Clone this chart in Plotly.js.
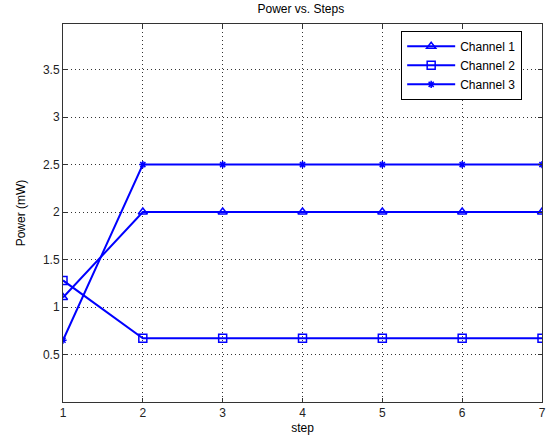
<!DOCTYPE html>
<html><head><meta charset="utf-8">
<script src="https://cdn.plot.ly/plotly-3.0.1.min.js"></script>
<style>body{margin:0;padding:0;background:#fff}#chart{width:547px;height:445px}</style>
</head><body><div id="chart"></div>
<script>
const steps = [1, 2, 3, 4, 5, 6, 7];
const channel1 = [1.10, 2.0, 2.0, 2.0, 2.0, 2.0, 2.0];
const channel2 = [1.28, 0.67, 0.67, 0.67, 0.67, 0.67, 0.67];
const channel3 = [0.65, 2.5, 2.5, 2.5, 2.5, 2.5, 2.5];
const names = ['Channel 1', 'Channel 2', 'Channel 3'];
const yTicks = [0.5, 1, 1.5, 2, 2.5, 3, 3.5];
const blue = '#0000ff';
const font = 'Liberation Sans, Arial, sans-serif';

function tr(y, name, sym, size) {
  return {x: steps, y: y, name: name, type: 'scatter', mode: 'lines+markers',
    line: {color: blue, width: 2},
    marker: {symbol: sym, size: size, color: blue, line: {color: blue, width: 1.5}}};
}
const data = [
  tr(channel1, names[0], 'triangle-up-open', 8),
  tr(channel2, names[1], 'square-open', 8),
  tr(channel3, names[2], 'asterisk-open', 6)
];
const axisCommon = {showline: true, mirror: 'ticks', linecolor: '#333', linewidth: 1,
  ticks: 'inside', ticklen: 4, tickcolor: '#333', showgrid: true,
  gridcolor: '#333', griddash: '1px,3px', gridwidth: 1, zeroline: false,
  tickfont: {family: font, size: 12, color: '#222'}};
const layout = {
  width: 547, height: 445, paper_bgcolor: '#fff', plot_bgcolor: '#fff',
  margin: {l: 63, r: 5, t: 24, b: 43},
  title: {text: 'Power vs. Steps', font: {family: font, size: 12, color: '#000'}, x: 0.55, xanchor: 'center', y: 0.99, yanchor: 'top'},
  xaxis: Object.assign({}, axisCommon, {range: [1, 7], tickvals: steps,
    title: {text: 'step', font: {family: font, size: 12, color: '#000'}, standoff: 4}}),
  yaxis: Object.assign({}, axisCommon, {range: [0, 3.98], tickvals: yTicks,
    title: {text: 'Power (mW)', font: {family: font, size: 12, color: '#000'}, standoff: 14}}),
  showlegend: true,
  legend: {x: 0.706, y: 0.982, xanchor: 'left', yanchor: 'top', bgcolor: '#fff',
    bordercolor: '#000', borderwidth: 1, font: {family: font, size: 12, color: '#000'},
    tracegroupgap: 0, itemwidth: 48}
};
Plotly.newPlot('chart', data, layout, {displayModeBar: false, staticPlot: true});
</script></body></html>
